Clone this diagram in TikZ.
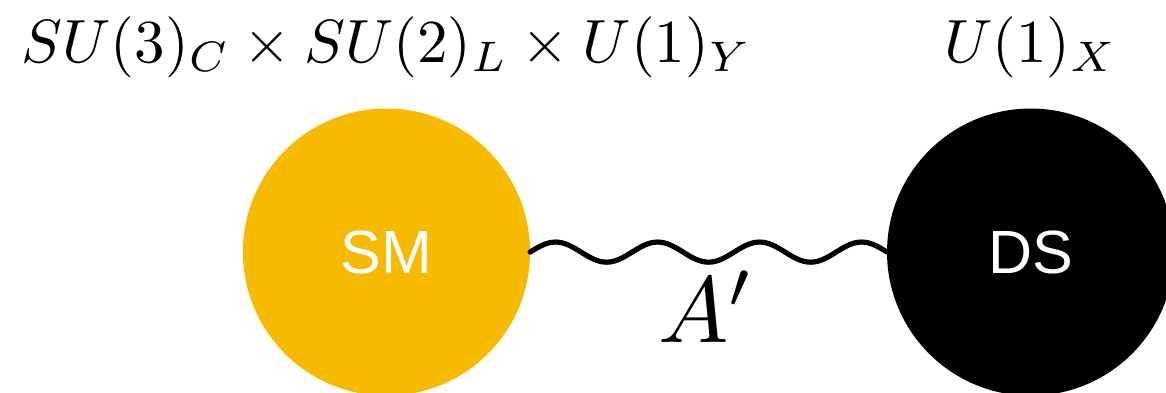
\documentclass[tikz,border=0pt]{standalone}
\usepackage{fontspec}
\newfontfamily\blobfont{Liberation Sans}
\usepackage{tikz}
\usetikzlibrary{positioning}
\definecolor{smgold}{HTML}{F6BB00}
\definecolor{dsblack}{HTML}{000000}
\tikzset{
  sector/.style ={circle,minimum size=1.654cm,inner sep=0pt,outer sep=0pt,
                  text=white,font=\blobfont\fontsize{10}{12}\selectfont},
  group/.style  ={inner sep=0pt,outer sep=0pt},
  photon/.style ={line width=0.85pt,draw=black,line cap=round}
}
\begin{document}
\begin{tikzpicture}
  \useasboundingbox (0,0) rectangle (6.716,2.258);
  % the two sectors
  \node[sector,fill=smgold] (sm) at (2.226,0.806) {SM};
  \node[sector,fill=dsblack] (ds) at (5.936,0.806) {DS};
  % gauge groups
  \node[group,above=0.18cm of sm] (smgroup) {$SU(3)_C\times SU(2)_L\times U(1)_Y$};
  \node[group,above=0.18cm of ds] (dsgroup) {$U(1)_X$};
  % dark photon
  \draw[photon] (sm.east)
    \foreach \k in {1,2,3}{ sin ++(0.1469,0.058) cos ++(0.1469,-0.058)
                            sin ++(0.1469,-0.058) cos ++(0.1469,0.058) }
    sin ++(0.1469,0.058) cos ++(0.1469,-0.058) -- (ds.west);
  \node[group,anchor=base] (aprime) at (4.07,0.288) {\scalebox{1.54}{$A'$}};
\end{tikzpicture}
\end{document}
